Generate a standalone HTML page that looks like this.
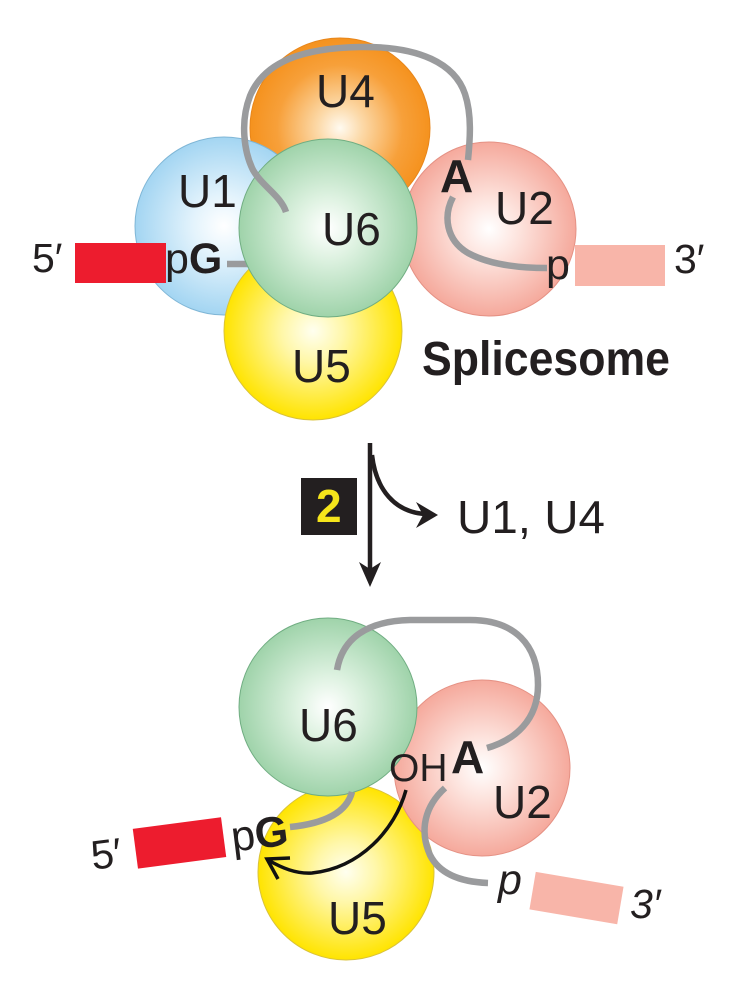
<!DOCTYPE html>
<html>
<head>
<meta charset="utf-8">
<style>
  html,body{margin:0;padding:0;background:#fff;}
  svg{display:block;}
  text{font-family:"Liberation Sans","DejaVu Sans",sans-serif;fill:#231f20;}
  .lbl{font-size:46px;}
  .b{font-weight:bold;}
</style>
</head>
<body>
<svg width="730" height="1000" viewBox="0 0 730 1000" xmlns="http://www.w3.org/2000/svg">
  <defs>
    <radialGradient id="gO" cx="50%" cy="50%" r="50%">
      <stop offset="0" stop-color="#fffaf0"/>
      <stop offset="0.25" stop-color="#fcd9a8"/>
      <stop offset="0.7" stop-color="#f7a03a"/>
      <stop offset="1" stop-color="#f5921e"/>
    </radialGradient>
    <radialGradient id="gB" cx="50%" cy="50%" r="50%">
      <stop offset="0" stop-color="#ffffff"/>
      <stop offset="0.35" stop-color="#e3f3fc"/>
      <stop offset="1" stop-color="#a3d5f2"/>
    </radialGradient>
    <radialGradient id="gG" cx="50%" cy="50%" r="50%">
      <stop offset="0" stop-color="#ffffff"/>
      <stop offset="0.35" stop-color="#def2e1"/>
      <stop offset="1" stop-color="#9fd3aa"/>
    </radialGradient>
    <radialGradient id="gP" cx="50%" cy="50%" r="50%">
      <stop offset="0" stop-color="#ffffff"/>
      <stop offset="0.35" stop-color="#fde3dd"/>
      <stop offset="1" stop-color="#f5a99c"/>
    </radialGradient>
    <radialGradient id="gY" cx="50%" cy="50%" r="50%">
      <stop offset="0" stop-color="#fffff0"/>
      <stop offset="0.35" stop-color="#fff7a8"/>
      <stop offset="1" stop-color="#ffe400"/>
    </radialGradient>
  </defs>

  <!-- ================= TOP SPLICESOME ================= -->
  <circle cx="340" cy="128" r="90" fill="url(#gO)" stroke="#e8861a" stroke-width="1"/>
  <circle cx="224" cy="226" r="89" fill="url(#gB)" stroke="#7fb6d6" stroke-width="1"/>
  <circle cx="313" cy="331" r="89" fill="url(#gY)" stroke="#d9c23a" stroke-width="1"/>
  <circle cx="489" cy="229" r="87" fill="url(#gP)" stroke="#e59184" stroke-width="1"/>
  <!-- pG strand to U6 -->
  <path d="M227,264 L252,264" stroke="#9a9b9d" stroke-width="6.5" fill="none"/>
  <circle cx="328" cy="228" r="89" fill="url(#gG)" stroke="#70ad82" stroke-width="1"/>

  <!-- top arc strand -->
  <path d="M286,212 C281,196 262,186 253,170 C244,152 240,122 250,96 C264,62 302,48 360,47 C420,46 455,64 465,94 C472,115 470,140 468,160"
        stroke="#9a9b9d" stroke-width="6.5" fill="none"/>
  <!-- strand after A -->
  <path d="M453,197 C443,216 446,240 468,253 C490,265 520,268 547,268"
        stroke="#9a9b9d" stroke-width="6.5" fill="none"/>

  <rect x="75" y="243" width="91" height="40" fill="#ed1c2e"/>
  <rect x="575" y="245" width="90" height="41" fill="#f8b5a9"/>

  <text class="lbl" x="316" y="107">U4</text>
  <text class="lbl" x="178" y="207">U1</text>
  <text class="lbl" x="322" y="245">U6</text>
  <text class="lbl b" x="440" y="192">A</text>
  <text class="lbl" x="495" y="224">U2</text>
  <text class="lbl" x="292" y="382">U5</text>
  <text style="font-size:41px" x="32" y="272">5′</text>
  <text style="font-size:43px" x="165" y="273">p<tspan font-weight="bold">G</tspan></text>
  <text style="font-size:43px" x="546" y="279">p</text>
  <text style="font-size:41px" x="674" y="273">3′</text>
  <text class="b" style="font-size:48px" x="422" y="375" textLength="248" lengthAdjust="spacingAndGlyphs">Splicesome</text>

  <!-- ================= MIDDLE ARROW ================= -->
  <line x1="370" y1="443" x2="370" y2="572" stroke="#231f20" stroke-width="4.5"/>
  <path d="M370,587 L359,562 L370,569 L381,562 Z" fill="#231f20"/>
  <path d="M372,455 C376,490 395,512 425,514" stroke="#231f20" stroke-width="4.5" fill="none"/>
  <path d="M438,515 L416,502 L423,515 L416,528 Z" fill="#231f20"/>
  <rect x="301" y="478" width="56" height="57" fill="#231f20"/>
  <text class="b" style="font-size:46px;fill:#f5e51b" x="316" y="522">2</text>
  <text class="lbl" x="457" y="533" textLength="148" lengthAdjust="spacingAndGlyphs">U1, U4</text>

  <!-- ================= BOTTOM ================= -->
  <circle cx="346" cy="872" r="88" fill="url(#gY)" stroke="#d9c23a" stroke-width="1"/>
  <circle cx="482" cy="768" r="88" fill="url(#gP)" stroke="#e59184" stroke-width="1"/>
  <circle cx="328" cy="707" r="89" fill="url(#gG)" stroke="#70ad82" stroke-width="1"/>

  <!-- arc strand -->
  <path d="M337,670 C342,640 365,621 410,620 L470,620 C515,620 538,645 538,685 C538,720 515,740 487,748"
        stroke="#9a9b9d" stroke-width="6.5" fill="none"/>
  <!-- strand after A -->
  <path d="M445,788 C425,806 419,830 430,855 C440,875 462,882 488,883"
        stroke="#9a9b9d" stroke-width="6.5" fill="none"/>
  <!-- pG strand -->
  <path d="M290,827 C320,824 346,815 352,792" stroke="#9a9b9d" stroke-width="6.5" fill="none"/>

  <!-- black curved arrow -->
  <path d="M406,790 C395,830 360,868 312,873 C296,874 282,868 268,860" stroke="#111" stroke-width="3.5" fill="none"/>
  <path d="M290,858 L267,859 L278,879" stroke="#111" stroke-width="3.5" fill="none"/>

  <g transform="rotate(-7.5 179 843)">
    <rect x="135" y="823" width="89" height="40" fill="#ed1c2e"/>
  </g>
  <g transform="rotate(9.6 576 898)">
    <rect x="532" y="879" width="89" height="38" fill="#f8b5a9"/>
  </g>

  <text class="lbl" x="299" y="741">U6</text>
  <text style="font-size:39px" x="389" y="781">OH</text>
  <text class="lbl b" x="451" y="773">A</text>
  <text class="lbl" x="493" y="818">U2</text>
  <text class="lbl" x="328" y="934">U5</text>
  <text style="font-size:41px" x="91" y="868" transform="rotate(-7 106 855)">5′</text>
  <text style="font-size:43px" x="231" y="848" transform="rotate(-7 262 835)">p<tspan font-weight="bold">G</tspan></text>
  <text style="font-size:43px;font-style:italic" x="498" y="894">p</text>
  <text style="font-size:41px;font-style:italic" x="630" y="918">3′</text>
</svg>
</body>
</html>
